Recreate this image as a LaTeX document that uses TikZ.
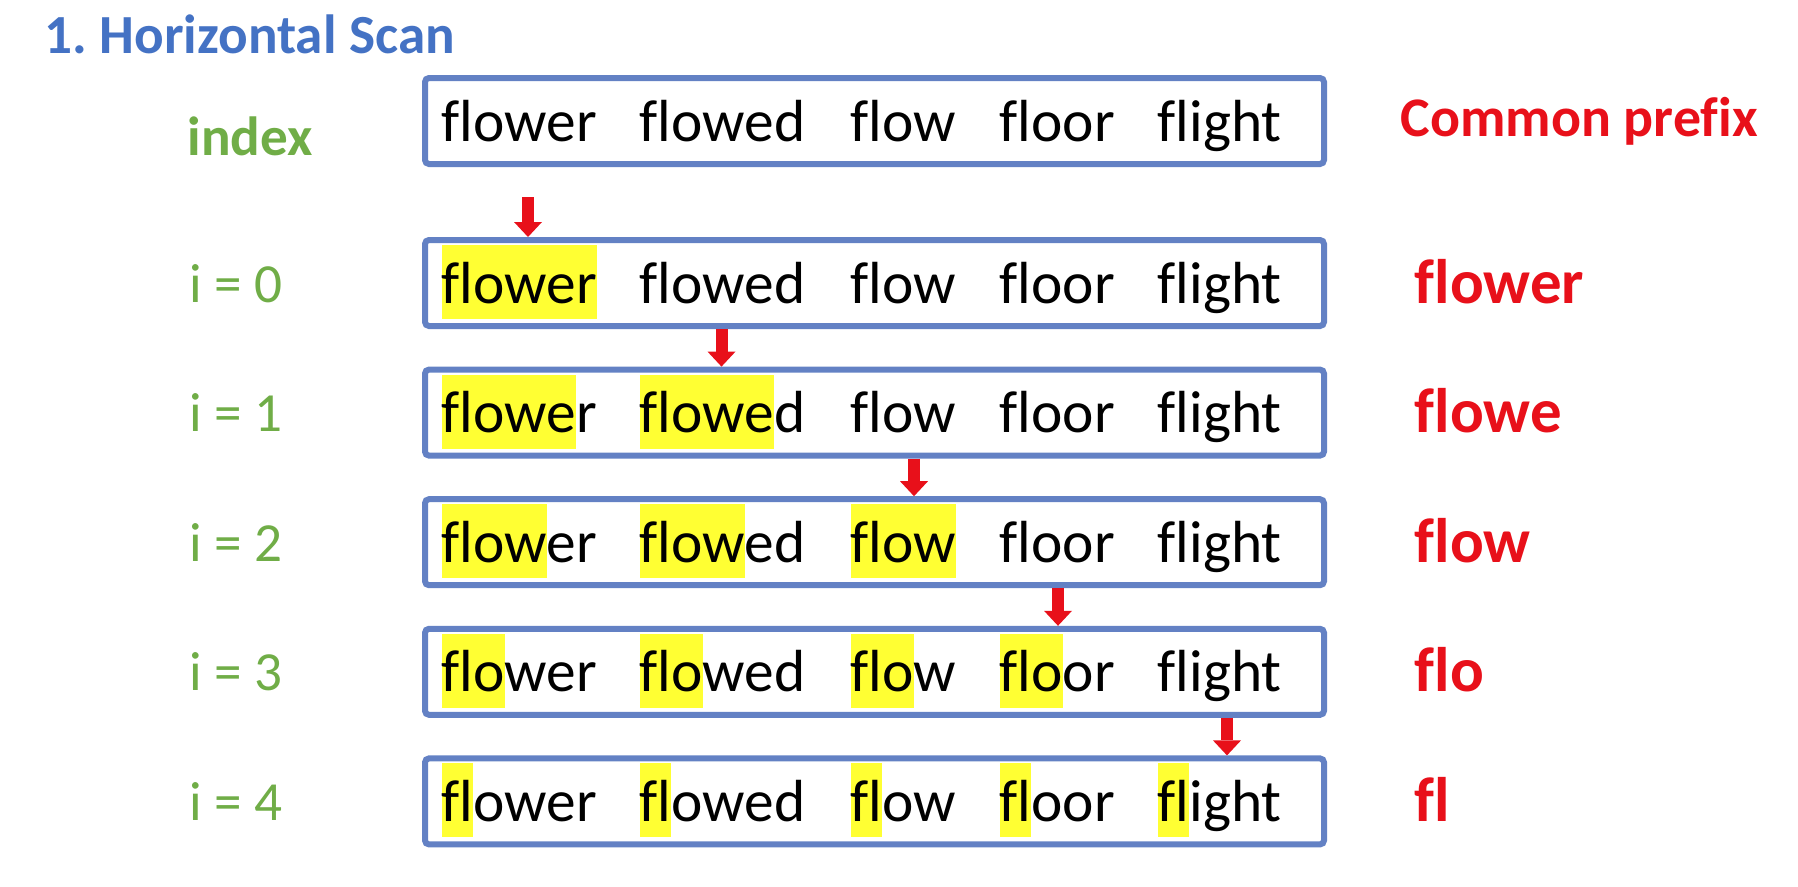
\documentclass[tikz,border=0pt]{standalone}
\usepackage{fontspec}
\setmainfont{Carlito}[Ligatures=CommonOff]
\usetikzlibrary{arrows.meta,positioning}
\definecolor{scanblue}{HTML}{4472C4}
\definecolor{boxblue}{HTML}{6381C4}
\definecolor{idxgreen}{HTML}{70AD47}
\definecolor{prered}{HTML}{E8101A}
\definecolor{hlyellow}{HTML}{FFFF33}
\frenchspacing

\begin{document}
\begin{tikzpicture}[
    rowbox/.style={draw=boxblue, line width=0.6mm, rounded corners=0.4mm,
        minimum width=8.99cm, minimum height=0.86cm, inner sep=0pt},
    wordtxt/.style={inner sep=0pt, anchor=base west, font=\fontsize{16.9}{20}\selectfont},
    hlbox/.style={wordtxt, fill=hlyellow, text height=5.8mm, text depth=1.6mm},
    titletxt/.style={inner sep=0pt, anchor=base west, scanblue, font=\fontsize{15.7}{19}\selectfont\bfseries},
    idxhead/.style={inner sep=0pt, anchor=base west, idxgreen, font=\fontsize{15.7}{19}\selectfont\bfseries},
    idxlbl/.style={inner sep=0pt, anchor=base west, idxgreen, font=\fontsize{15.7}{19}\selectfont},
    prehead/.style={inner sep=0pt, anchor=base west, prered, font=\fontsize{15.9}{19}\selectfont\bfseries},
    prelbl/.style={inner sep=0pt, anchor=base west, prered, font=\fontsize{17.9}{21}\selectfont\bfseries},
    downarrow/.style={draw=prered, line width=1.2mm,
        -{Triangle[width=2.8mm, length=1.5mm, line width=0pt]}}
]
    \useasboundingbox (0,0) rectangle (17.98,-8.86);

    \node[titletxt] (title) at (0.44,-0.54) {1. Horizontal Scan};
    \node[idxhead] (idx) at (1.87,-1.55) {index};
    \node[prehead] (cp) at (14.00,-1.36) {Common prefix};

    % header row
    \node[rowbox] (boxh) at (8.745,-1.21) {};
    \foreach \w/\x/\word in {1/4.41/flower,2/6.39/flowed,3/8.50/flow,4/9.99/floor,5/11.57/flight}
        \node[wordtxt] (wh\w) at (\x,-1.41) {\word};

    % one row per index i
    \foreach \k/\pre [evaluate=\k as \yc using -2.83-1.296*\k] in {0/flower,1/flowe,2/flow,3/flo,4/fl} {
        \node[rowbox] (box\k) at (8.745,\yc) {};
        \node[idxlbl] (i\k) at (1.89,\yc-0.19) {i = \k};
        \node[prelbl] (p\k) at (14.14,\yc-0.20) {\pre};
        \foreach \w/\x/\word in {1/4.41/flower,2/6.39/flowed,3/8.50/flow,4/9.99/floor,5/11.57/flight} {
            \ifnum\w<\numexpr\k+2\relax
                \node[hlbox] (h\k\w) at (\x,\yc-0.20) {\phantom{\pre}};
            \fi
            \node[wordtxt] (w\k\w) at (\x,\yc-0.20) {\word};
        }
    }

    \coordinate (start0) at (5.28,-1.97);
    \draw[downarrow] (start0) -- (start0 |- box0.north);
    \foreach \k/\kp/\ax in {1/0/7.215,2/1/9.14,3/2/10.58,4/3/12.27}
        \draw[downarrow] (box\kp.south -| \ax,0) -- (box\k.north -| \ax,0);
\end{tikzpicture}
\end{document}
